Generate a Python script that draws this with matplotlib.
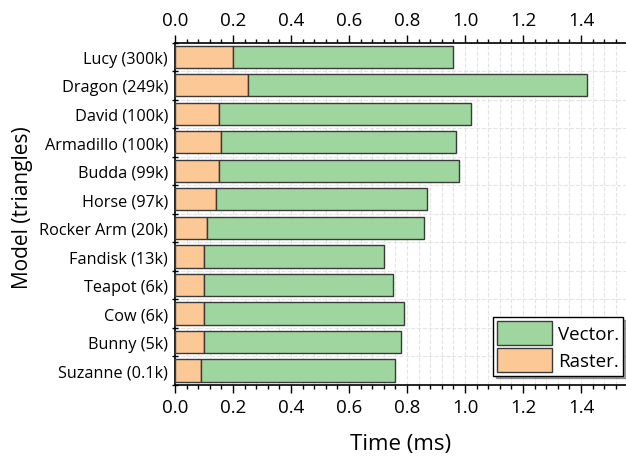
import matplotlib
matplotlib.use("Agg")
import matplotlib.pyplot as plt
import matplotlib.ticker
import numpy as np

models = [
    "Lucy (300k)", "Dragon (249k)", "David (100k)", "Armadillo (100k)",
    "Budda (99k)", "Horse (97k)", "Rocker Arm (20k)", "Fandisk (13k)",
    "Teapot (6k)", "Cow (6k)", "Bunny (5k)", "Suzanne (0.1k)",
]
raster_ms = [0.20, 0.25, 0.15, 0.16, 0.15, 0.14, 0.11, 0.10, 0.10, 0.10, 0.10, 0.09]
vector_ms = [0.76, 1.17, 0.87, 0.81, 0.83, 0.73, 0.75, 0.62, 0.65, 0.69, 0.68, 0.67]

green = "#9fd69f"
orange = "#fcc895"
edge = "#3a3a3a"

plt.rcParams["font.family"] = ["Open Sans", "DejaVu Sans"]

fig = plt.figure(figsize=(6.26, 4.60), dpi=100)
ax = fig.add_axes([0.2796, 0.1615, 0.7204, 0.7439])

y = np.arange(len(models))[::-1]
ax.barh(y, raster_ms, height=0.78, color=orange, edgecolor=edge, linewidth=1.0,
        label="Raster.", zorder=3)
ax.barh(y, vector_ms, left=raster_ms, height=0.78, color=green, edgecolor=edge,
        linewidth=1.0, label="Vector.", zorder=3)

ax.set_xlim(0, 1.555)
ax.set_ylim(-0.5, len(models) - 0.5)

ax.xaxis.set_major_locator(matplotlib.ticker.MultipleLocator(0.2))
ax.xaxis.set_minor_locator(matplotlib.ticker.MultipleLocator(0.04))
ax.xaxis.set_major_formatter(matplotlib.ticker.FormatStrFormatter("%.1f"))
ax.set_yticks(y)
ax.set_yticklabels(models, fontsize=11.7)
ax.set_yticks(np.arange(len(models) + 1) - 0.5, minor=True)

ax.tick_params(axis="x", which="both", top=True, labeltop=True, direction="out",
               labelsize=13.5, color="black")
ax.tick_params(axis="x", which="major", length=6, width=1)
ax.tick_params(axis="x", which="minor", length=3, width=1)
ax.tick_params(axis="y", which="major", length=0, pad=5)
ax.tick_params(axis="y", which="minor", length=5, width=1, direction="inout")

for s in ["left", "top", "bottom"]:
    ax.spines[s].set_linewidth(1.2)
ax.spines["right"].set_visible(False)

ax.grid(True, which="both", axis="x", color="#e4e4e4", linestyle="--", linewidth=0.8, zorder=0)
ax.grid(True, which="minor", axis="y", color="#e4e4e4", linestyle="--", linewidth=0.8, zorder=0)
ax.set_axisbelow(True)

ax.set_xlabel("Time (ms)", fontsize=16, labelpad=12)
ax.set_ylabel("Model (triangles)", fontsize=15)
ax.yaxis.set_label_coords(-0.315, 0.519)

handles, labels = ax.get_legend_handles_labels()
leg = ax.legend(handles[::-1], labels[::-1], loc="lower right",
                bbox_to_anchor=(1 - 3 / 451, 9 / 342), borderaxespad=0,
                fontsize=13.5, frameon=True, fancybox=False, shadow=True,
                edgecolor="black", framealpha=1, handlelength=2.9,
                handleheight=1.6, borderpad=0.2, labelspacing=0.15,
                handletextpad=0.35)
leg.get_frame().set_linewidth(1.0)

plt.savefig("out.png", dpi=100)
